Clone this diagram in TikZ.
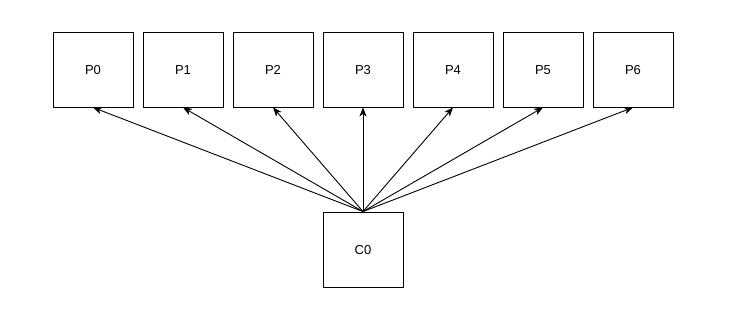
\documentclass[tikz,border=0pt]{standalone}
\usepackage{fontspec}
\setmainfont{Liberation Sans}
\usetikzlibrary{arrows.meta}
\begin{document}
\begin{tikzpicture}[x=1pt,y=1pt,
  box/.style={draw, line width=0.9pt, minimum width=80pt, minimum height=75pt, inner sep=0pt, text height=9.3pt, text depth=0pt, font=\fontsize{13}{15}\selectfont},
  link/.style={line width=0.9pt, -{Stealth[length=9pt,width=7pt,inset=2.5pt]}}]
\useasboundingbox (0,0) rectangle (734,314);
\foreach \i in {0,...,6} {
  \node[box] (P\i) at ({93+90*\i},{314-69.5}) {P\i};
}
\node[box] (C0) at (363,{314-249.5}) {C0};
\foreach \i in {0,...,6} {
  \draw[link] (C0.north) -- (P\i.south);
}
\end{tikzpicture}
\end{document}
